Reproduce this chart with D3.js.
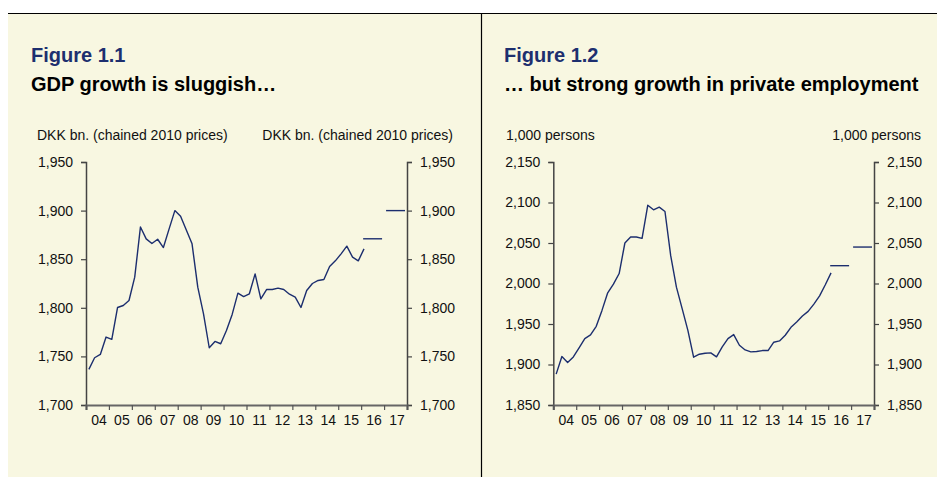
<!DOCTYPE html>
<html>
<head>
<meta charset="utf-8">
<script src="https://cdn.jsdelivr.net/npm/d3@7"></script>
<style>
  body { margin: 0; background: #ffffff; }
  svg text { font-family: "Liberation Sans", Arial, sans-serif; fill: #111; }
  .figno { font-weight: bold; fill: #1d2f6f; }
  .title { font-weight: bold; fill: #000; }
</style>
</head>
<body>
<svg id="chart" width="937" height="477"></svg>
<script>
// quarterly series, first value = 2004Q1, last = 2016Q1
var gdpQuarterly = [1736.6, 1748.6, 1752, 1769.9, 1767.5, 1800.3, 1802.4, 1807.5, 1831.5, 1883.2,
    1870.9, 1866.1, 1870.5, 1862, 1881.2, 1900, 1894.2, 1880.1, 1865.8, 1821.2,
    1793.8, 1758.9, 1765.4, 1763, 1776.7, 1793.2, 1815.1, 1811.6, 1814.4, 1834.9,
    1809.2, 1818.8, 1818.8, 1820.2, 1818.8, 1814, 1811, 1800.3, 1817.8, 1825,
    1828.1, 1829.1, 1842.5, 1848.3, 1855.5, 1863.4, 1852.1, 1848.3, 1860.6];

var empQuarterly = [1888.1, 1909.8, 1902.5, 1909.4, 1920.5, 1932, 1936.5, 1947.1, 1966.8, 1988.5,
    1999.2, 2012.3, 2050, 2057.4, 2057.4, 2055.7, 2096.7, 2091, 2094.3, 2088.9,
    2034.4, 1995.5, 1968.9, 1942.2, 1909, 1912.7, 1913.9, 1914.3, 1909.4, 1921.7,
    1932, 1936.9, 1923.8, 1918, 1915.6, 1916, 1917.2, 1917.2, 1927.5, 1929.1,
    1936.1, 1945.9, 1952.5, 1959.8, 1965.6, 1974.6, 1984.8, 1998.4, 2013.1];

// annual forecasts
var forecastYears = [2016, 2017];
var gdpForecast = [1871, 1900];
var empForecast = [2022, 2045];

var years = d3.range(2004, 2018);
var gdpTicks = [1700, 1750, 1800, 1850, 1900, 1950];
var empTicks = [1850, 1900, 1950, 2000, 2050, 2100, 2150];

var svg = d3.select("#chart");

// page background and frame
svg.append("rect").attr("x", 8).attr("y", 13).attr("width", 929).attr("height", 464).attr("fill", "#f8f7e1");
svg.append("line").attr("x1", 8).attr("x2", 937).attr("y1", 13.5).attr("y2", 13.5).attr("stroke", "#000").attr("stroke-width", 1.2);
svg.append("line").attr("x1", 481.5).attr("x2", 481.5).attr("y1", 13).attr("y2", 477).attr("stroke", "#000").attr("stroke-width", 1.2);

function drawPanel(p) {
    var g = svg.append("g");
    var x = d3.scaleLinear().domain([2004, 2018]).range([p.left, p.right]);
    var y = d3.scaleLinear().domain([p.ticks[0], p.ticks[p.ticks.length - 1]]).range([p.bottom, p.top]);

    g.append("text").attr("class", "figno").attr("x", p.textX).attr("y", 62)
        .style("font-size", "20px").text(p.figno);
    g.append("text").attr("class", "title").attr("x", p.textX).attr("y", 91)
        .style("font-size", "20px").text(p.title);
    g.append("text").attr("x", p.unitL).attr("y", 140).style("font-size", "14px").text(p.unit);
    g.append("text").attr("x", p.unitR).attr("y", 140).attr("text-anchor", "end")
        .style("font-size", "14px").text(p.unit);

    var fmt = d3.format(",");
    var yLeft = d3.axisLeft(y).tickValues(p.ticks).tickFormat(fmt).tickSize(5).tickPadding(8);
    var yRight = d3.axisRight(y).tickValues(p.ticks).tickFormat(fmt).tickSize(5).tickPadding(8);

    var gl = g.append("g").attr("transform", "translate(" + p.left + ",0)").call(yLeft);
    var gr = g.append("g").attr("transform", "translate(" + p.right + ",0)").call(yRight);
    [gl, gr].forEach(function (a) {
        a.select(".domain").attr("stroke", "#444").attr("stroke-width", 1.5);
        a.selectAll(".tick line").attr("stroke", "#444").attr("stroke-width", 1.2);
        a.selectAll(".tick text").style("font-size", "14px").attr("fill", "#111")
            .style("font-family", "Liberation Sans, Arial, sans-serif");
    });

    // x axis: ticks at year boundaries, labels mid-year
    var xAxis = d3.axisBottom(x).tickValues(d3.range(2004, 2019)).tickSize(5).tickFormat("");
    var gx = g.append("g").attr("transform", "translate(0," + p.bottom + ")").call(xAxis);
    gx.select(".domain").attr("stroke", "#666").attr("stroke-width", 2.2);
    gx.selectAll(".tick line").attr("stroke", "#555").attr("stroke-width", 1.2);

    g.selectAll(".yearlab").data(years).enter().append("text")
        .attr("x", function (d) { return x(d + 0.5) + 1.5; })
        .attr("y", p.bottom + 20)
        .attr("text-anchor", "middle")
        .style("font-size", "14px")
        .text(function (d) { return String(d).slice(2); });

    var line = d3.line()
        .x(function (d, i) { return x(2004 + (i + 0.5) / 4); })
        .y(function (d) { return y(d); });

    g.append("path").datum(p.series).attr("d", line)
        .attr("fill", "none").attr("stroke", "#1c2e6e").attr("stroke-width", 1.4)
        .attr("stroke-linejoin", "round");

    g.selectAll(".fc").data(forecastYears).enter().append("line")
        .attr("x1", function (d) { return x(d) + 2; })
        .attr("x2", function (d) { return x(d + 1) - 2; })
        .attr("y1", function (d, i) { return y(p.forecast[i]); })
        .attr("y2", function (d, i) { return y(p.forecast[i]); })
        .attr("stroke", "#1c2e6e").attr("stroke-width", 1.4);
}

drawPanel({
    figno: "Figure 1.1", title: "GDP growth is sluggish\u2026",
    unit: "DKK bn. (chained 2010 prices)",
    textX: 31, unitL: 37, unitR: 453,
    left: 86, right: 407, top: 162, bottom: 405,
    ticks: gdpTicks, series: gdpQuarterly, forecast: gdpForecast
});

drawPanel({
    figno: "Figure 1.2", title: "\u2026 but strong growth in private employment",
    unit: "1,000 persons",
    textX: 504, unitL: 506, unitR: 921,
    left: 553.3, right: 874, top: 162, bottom: 405,
    ticks: empTicks, series: empQuarterly, forecast: empForecast
});
</script>
</body>
</html>
